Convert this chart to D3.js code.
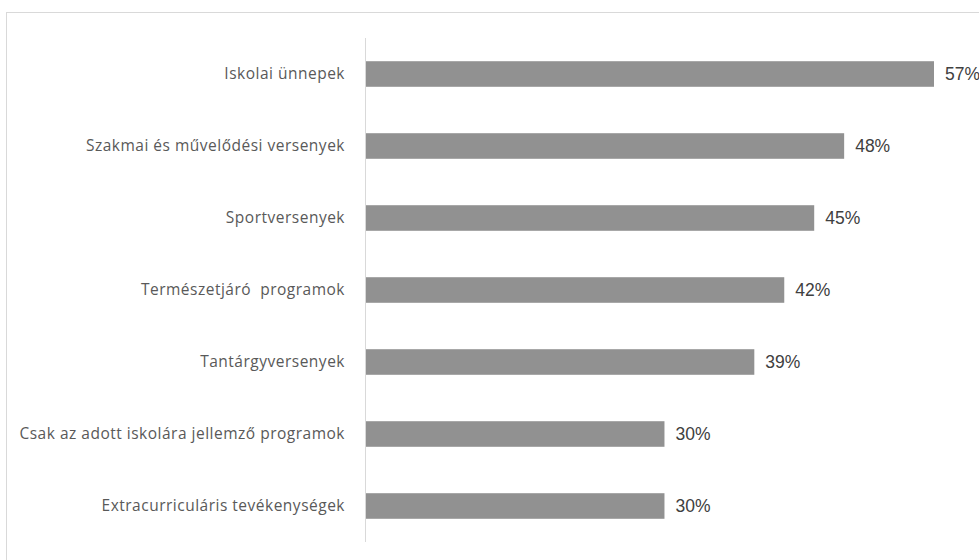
<!DOCTYPE html>
<html>
<head>
<meta charset="utf-8">
<script src="https://cdn.jsdelivr.net/npm/d3@7"></script>
<style>
html,body{margin:0;padding:0;background:#fff;}
svg{display:block;}
</style>
</head>
<body>
<svg id="chart" width="979" height="560"></svg>
<script>
const categories = [
  "Iskolai ünnepek",
  "Szakmai és művelődési versenyek",
  "Sportversenyek",
  "Természetjáró  programok",
  "Tantárgyversenyek",
  "Csak az adott iskolára jellemző programok",
  "Extracurriculáris tevékenységek"
];
const values = [57, 48, 45, 42, 39, 30, 30];
const valueLabels = ["57%", "48%", "45%", "42%", "39%", "30%", "30%"];

const svg = d3.select("#chart");

// outer frame
svg.append("rect")
  .attr("x", 6.5).attr("y", 12.5)
  .attr("width", 1000).attr("height", 600)
  .attr("fill", "none").attr("stroke", "#d9d9d9").attr("stroke-width", 1);

const x = d3.scaleLinear().domain([0, 57]).range([365, 934]);
const y = d3.scaleBand().domain(categories).range([38, 542])
  .paddingInner(0.645).paddingOuter(0.3225);

// bars
svg.selectAll("rect.bar").data(values).join("rect")
  .attr("class", "bar")
  .attr("x", x(0))
  .attr("y", (d, i) => y(categories[i]))
  .attr("width", d => x(d) - x(0))
  .attr("height", y.bandwidth())
  .attr("fill", "#919191");

// axis line
svg.append("line")
  .attr("x1", 365.5).attr("x2", 365.5)
  .attr("y1", 38).attr("y2", 542)
  .attr("stroke", "#d9d9d9").attr("stroke-width", 1);

// category labels
svg.selectAll("text.cat").data(categories).join("text")
  .attr("class", "cat")
  .attr("x", 345)
  .attr("y", d => y(d) + y.bandwidth() / 2)
  .attr("dy", "0.35em")
  .attr("text-anchor", "end")
  .attr("font-family", "'Open Sans', Lato, sans-serif")
  .attr("font-size", 15.5)
  .attr("letter-spacing", 0.5)
  .attr("fill", "#595959")
  .style("white-space", "pre")
  .text(d => d);

// value labels
svg.selectAll("text.val").data(values).join("text")
  .attr("class", "val")
  .attr("x", d => x(d) + 11)
  .attr("y", (d, i) => y(categories[i]) + y.bandwidth() / 2)
  .attr("dy", "0.36em")
  .attr("font-family", "'Liberation Sans', Arial, sans-serif")
  .attr("font-size", 17.5)
  .attr("fill", "#404040")
  .text((d, i) => valueLabels[i]);
</script>
</body>
</html>
